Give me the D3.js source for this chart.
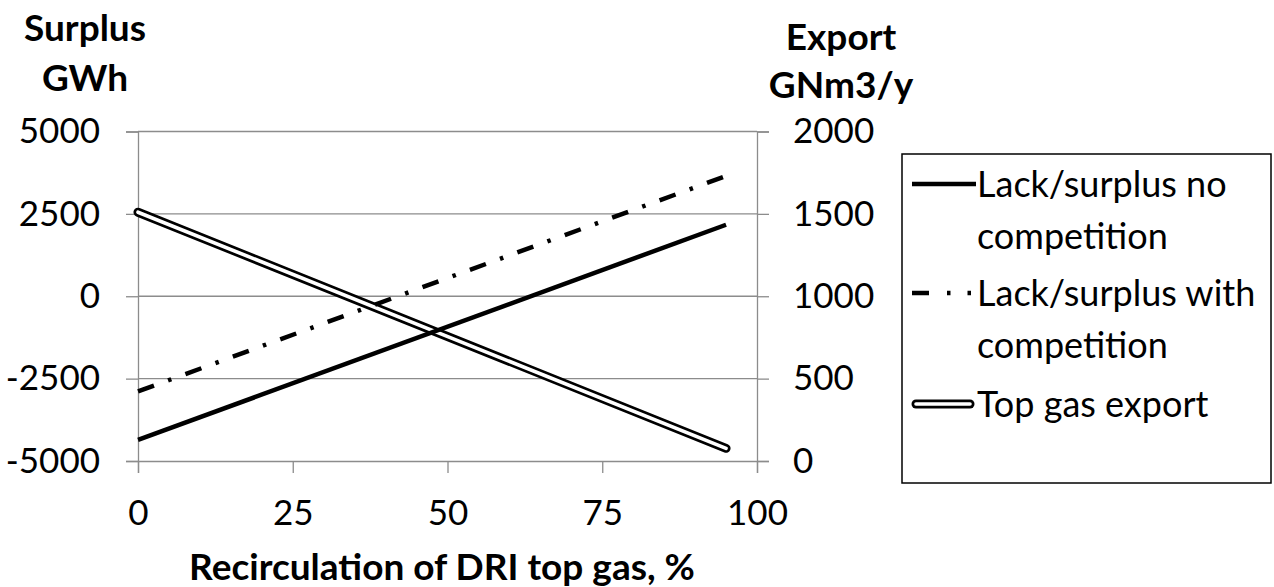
<!DOCTYPE html>
<html>
<head>
<meta charset="utf-8">
<script src="https://cdn.jsdelivr.net/npm/d3@7"></script>
<style>
  body { margin: 0; background: #fff; }
  text { font-family: Lato, "Open Sans", sans-serif; fill: #000; }
</style>
</head>
<body>
<svg id="canvas" width="1274" height="587"></svg>
<script>
var W = 1274, H = 587;
var plot = { left: 138, right: 757, top: 131.5, bottom: 461 };

// values
var recirc = [0, 95];
var noCompetition = [-4360, 2170];
var withCompetition = [-2890, 3650];
var topGasExport = [1510, 77];

var xTicks = [0, 25, 50, 75, 100];
var leftTicks = [-5000, -2500, 0, 2500, 5000];
var rightTicks = [0, 500, 1000, 1500, 2000];

var legendLabels = [
  ['Lack/surplus no', 'competition'],
  ['Lack/surplus with', 'competition'],
  ['Top gas export']
];

var x = d3.scaleLinear().domain([0, 100]).range([plot.left, plot.right]);
var yL = d3.scaleLinear().domain([-5000, 5000]).range([plot.bottom, plot.top]);
var yR = d3.scaleLinear().domain([0, 2000]).range([plot.bottom, plot.top]);

var svg = d3.select('#canvas');
var grey = '#8c8c8c';
var tickFont = '35px';

function styleAxis(g) {
  g.select('.domain').attr('stroke', grey).attr('stroke-width', 1.3);
  g.selectAll('.tick line').attr('stroke', grey).attr('stroke-width', 1.3);
  g.selectAll('.tick text').style('font-size', tickFont)
    .style('font-family', 'Lato, sans-serif').attr('fill', '#000');
}

// gridlines
svg.append('g').selectAll('line')
  .data(leftTicks.filter(d => d != -5000))
  .join('line')
  .attr('x1', plot.left).attr('x2', plot.right)
  .attr('y1', d => yL(d)).attr('y2', d => yL(d))
  .attr('stroke', grey).attr('stroke-width', 1.3);

var gLeft = svg.append('g')
  .attr('transform', 'translate(' + plot.left + ',0)')
  .call(d3.axisLeft(yL).tickValues(leftTicks).tickSize(12).tickPadding(26)
    .tickFormat(d => String(d)));
styleAxis(gLeft);

var gRight = svg.append('g')
  .attr('transform', 'translate(' + plot.right + ',0)')
  .call(d3.axisRight(yR).tickValues(rightTicks).tickSize(12).tickPadding(24)
    .tickFormat(d => String(d)));
styleAxis(gRight);

var gX = svg.append('g')
  .attr('transform', 'translate(0,' + plot.bottom + ')')
  .call(d3.axisBottom(x).tickValues(xTicks).tickSize(12).tickPadding(27));
styleAxis(gX);

// series
var pts = (ys) => recirc.map((r, i) => [r, ys[i]]);
var lineL = d3.line().x(d => x(d[0])).y(d => yL(d[1]));
var lineR = d3.line().x(d => x(d[0])).y(d => yR(d[1]));

svg.append('path').attr('d', lineR(pts(topGasExport)))
  .attr('fill', 'none').attr('stroke', '#000').attr('stroke-width', 9)
  .attr('stroke-linecap', 'round');
svg.append('path').attr('d', lineR(pts(topGasExport)))
  .attr('fill', 'none').attr('stroke', '#fff').attr('stroke-width', 3.6)
  .attr('stroke-linecap', 'round');

svg.append('path').attr('d', lineL(pts(noCompetition)))
  .attr('fill', 'none').attr('stroke', '#000').attr('stroke-width', 4.5);

svg.append('path').attr('d', lineL(pts(withCompetition)))
  .attr('fill', 'none').attr('stroke', '#000').attr('stroke-width', 4.5)
  .attr('stroke-dasharray', '17,15,3.5,15');

// axis titles
function multiText(lines, cx, y0, dy) {
  var t = svg.append('text').attr('text-anchor', 'middle')
    .style('font-size', '37px').style('font-weight', 'bold');
  lines.forEach((s, i) => t.append('tspan').attr('x', cx).attr('y', y0 + i * dy).text(s));
}
multiText(['Surplus', 'GWh'], 85, 41, 50);
multiText(['Export', 'GNm3/y'], 841, 50, 48);
multiText(['Recirculation of DRI top gas, %'], 442, 580, 0);

// legend
var lg = svg.append('g');
lg.append('rect').attr('x', 902).attr('y', 154).attr('width', 369).attr('height', 329)
  .attr('fill', 'none').attr('stroke', '#000').attr('stroke-width', 1.5);
var rowY = [184, 293, 404];
legendLabels.forEach((lines, i) => {
  var y = rowY[i];
  if (i == 2) {
    lg.append('line').attr('x1', 916).attr('x2', 970).attr('y1', y).attr('y2', y)
      .attr('stroke', '#000').attr('stroke-width', 9).attr('stroke-linecap', 'round');
    lg.append('line').attr('x1', 916).attr('x2', 970).attr('y1', y).attr('y2', y)
      .attr('stroke', '#fff').attr('stroke-width', 3.6).attr('stroke-linecap', 'round');
  } else {
    lg.append('line').attr('x1', 912).attr('x2', 976).attr('y1', y).attr('y2', y)
      .attr('stroke', '#000').attr('stroke-width', 4.5)
      .attr('stroke-dasharray', i == 1 ? '17,18,3.5,17,3.5,100' : null);
  }
  var t = lg.append('text').style('font-size', '36px');
  lines.forEach((s, j) => t.append('tspan').attr('x', 977).attr('y', y + 13 + j * 52).text(s));
});
</script>
</body>
</html>
